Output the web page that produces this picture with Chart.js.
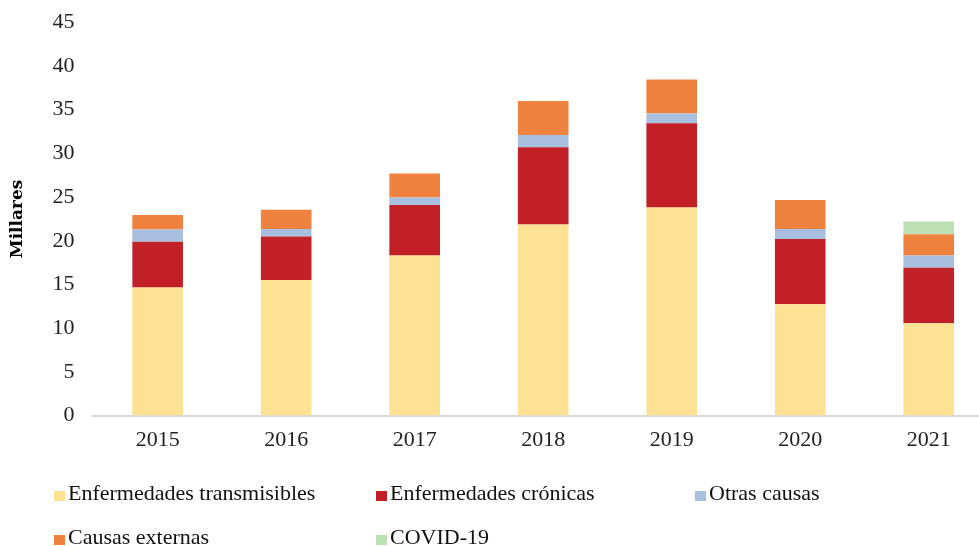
<!DOCTYPE html>
<html lang="es">
<head>
<meta charset="utf-8">
<title>Defunciones por causa</title>
<script src="https://cdn.jsdelivr.net/npm/chart.js@4/dist/chart.umd.min.js"></script>
<style>
  html, body { margin: 0; padding: 0; background: #fff; overflow: hidden; }
  #wrap { position: absolute; left: 0; top: 0; width: 979px; height: 546px; overflow: hidden; }
  #chart { position: absolute; left: 0; top: -10px; }
  #legend { position: absolute; left: 0; top: 0; width: 979px; height: 546px; pointer-events: none;
            font-family: "Liberation Serif", serif; font-size: 22px; color: #111; }
  .item { position: absolute; display: flex; align-items: center; height: 24px; line-height: 24px; white-space: nowrap; }
  .box { width: 11px; height: 10px; margin-right: 3px; margin-top: 5px; }
</style>
</head>
<body>
<div id="wrap">
  <canvas id="chart" width="994" height="478"></canvas>
  <div id="legend"></div>
</div>
<script>
// años y defunciones (miles) por grupo de causa
const years = ['2015', '2016', '2017', '2018', '2019', '2020', '2021'];
const transmisibles = [14.65, 15.5, 18.3, 21.85, 23.8, 12.75, 10.55];
const cronicas = [5.25, 5.0, 5.8, 8.85, 9.65, 7.45, 6.35];
const otras = [1.4, 0.85, 0.85, 1.4, 1.1, 1.15, 1.4];
const externas = [1.65, 2.2, 2.75, 3.9, 3.9, 3.3, 2.45];
const covid = [null, null, null, null, null, null, 1.45];
const yTicks = [0, 5, 10, 15, 20, 25, 30, 35, 40, 45];

const series = [
  { label: 'Enfermedades transmisibles', data: transmisibles, color: '#FDE294' },
  { label: 'Enfermedades crónicas', data: cronicas, color: '#C02026' },
  { label: 'Otras causas', data: otras, color: '#A8BFE0' },
  { label: 'Causas externas', data: externas, color: '#F0823F' },
  { label: 'COVID-19', data: covid, color: '#BCDFB3' }
];

const ctx = document.getElementById('chart').getContext('2d');
new Chart(ctx, {
  type: 'bar',
  data: {
    labels: years,
    datasets: series.map(s => ({
      label: s.label,
      data: s.data,
      backgroundColor: s.color,
      borderWidth: 0,
      barPercentage: 0.394,
      categoryPercentage: 1.0
    }))
  },
  options: {
    responsive: false,
    animation: false,
    layout: { padding: { top: 3, right: 1, bottom: 4, left: 0 } },
    plugins: {
      legend: { display: false },
      tooltip: { enabled: false }
    },
    scales: {
      x: {
        stacked: true,
        grid: { display: false, drawTicks: false },
        border: { display: true, color: '#D9D9D9', width: 2 },
        ticks: { color: '#222', padding: 11, font: { family: 'Liberation Serif', size: 22 } }
      },
      y: {
        stacked: true,
        min: 0,
        max: 45,
        afterBuildTicks: axis => { axis.ticks = yTicks.map(v => ({ value: v })); },
        grid: { display: false, drawTicks: false },
        border: { display: false },
        ticks: { color: '#222', padding: 19, font: { family: 'Liberation Serif', size: 22 } },
        title: {
          display: true,
          text: 'Millares',
          color: '#000',
          padding: { top: 7, bottom: 6 },
          font: { family: 'DejaVu Serif', size: 17, weight: 'bold' }
        }
      }
    }
  }
});

// leyenda en dos filas de tres columnas
const legend = document.getElementById('legend');
const colX = [54, 376, 695];
const rowY = [481, 525];
series.forEach((s, i) => {
  const el = document.createElement('div');
  el.className = 'item';
  el.style.left = colX[i % 3] + 'px';
  el.style.top = rowY[Math.floor(i / 3)] + 'px';
  const box = document.createElement('span');
  box.className = 'box';
  box.style.background = s.color;
  const txt = document.createElement('span');
  txt.textContent = s.label;
  el.appendChild(box);
  el.appendChild(txt);
  legend.appendChild(el);
});
</script>
</body>
</html>
